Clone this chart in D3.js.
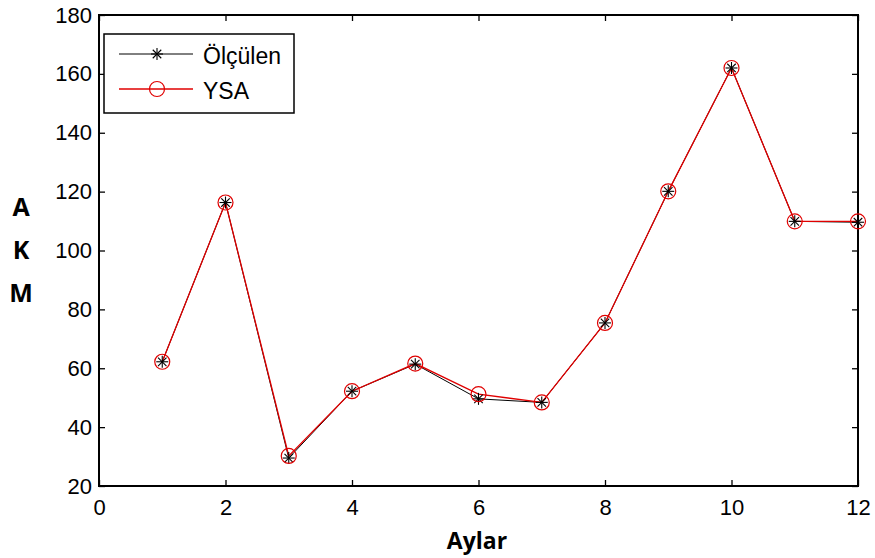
<!DOCTYPE html>
<html>
<head>
<meta charset="utf-8">
<script src="https://cdn.jsdelivr.net/npm/d3@7"></script>
<style>
html,body{margin:0;padding:0;background:#fff;}
svg{display:block;}
</style>
</head>
<body>
<svg id="chart" width="875" height="558"></svg>
<script>
const months = [1,2,3,4,5,6,7,8,9,10,11,12];
const olculen = [62.2, 116.3, 29.5, 52.2, 61.4, 49.6, 48.4, 75.4, 120.1, 162.0, 109.9, 109.6];
const ysa     = [62.2, 116.3, 30.2, 52.2, 61.6, 51.2, 48.4, 75.4, 120.1, 162.0, 109.9, 109.9];
const xTicks = [0,2,4,6,8,10,12];
const yTicks = [20,40,60,80,100,120,140,160,180];
const seriesNames = ["Ölçülen", "YSA"];

const svg = d3.select("#chart");
const L = 99, R = 858, T = 15, B = 486;
const x = d3.scaleLinear().domain([0,12]).range([L,R]);
const y = d3.scaleLinear().domain([20,180]).range([B,T]);
const font = "'Liberation Sans', Arial, sans-serif";

// frame
svg.append("rect").attr("x",L).attr("y",T).attr("width",R-L).attr("height",B-T)
  .attr("fill","none").attr("stroke","#000").attr("stroke-width",2);

// axes with inward ticks
const xAxB = svg.append("g").attr("transform",`translate(0,${B})`)
  .call(d3.axisBottom(x).tickValues(xTicks).tickSizeInner(-6).tickSizeOuter(0).tickPadding(13));
const xAxT = svg.append("g").attr("transform",`translate(0,${T})`)
  .call(d3.axisTop(x).tickValues(xTicks).tickSizeInner(-6).tickSizeOuter(0).tickFormat(""));
const yAxL = svg.append("g").attr("transform",`translate(${L},0)`)
  .call(d3.axisLeft(y).tickValues(yTicks).tickSizeInner(-6).tickSizeOuter(0).tickPadding(7));
const yAxR = svg.append("g").attr("transform",`translate(${R},0)`)
  .call(d3.axisRight(y).tickValues(yTicks).tickSizeInner(-6).tickSizeOuter(0).tickFormat(""));
[xAxB,xAxT,yAxL,yAxR].forEach(g=>{
  g.select(".domain").remove();
  g.selectAll(".tick line").attr("stroke","#000").attr("stroke-width",1.3);
  g.selectAll("text").attr("font-family",font).attr("font-size",22).attr("fill","#000");
});
xAxB.selectAll("text").attr("dy","0.71em");

// lines
const line = d3.line().x((d,i)=>x(months[i])).y(d=>y(d));
svg.append("path").datum(olculen).attr("d",line).attr("fill","none").attr("stroke","#000").attr("stroke-width",1);
svg.append("path").datum(ysa).attr("d",line).attr("fill","none").attr("stroke","#e00000").attr("stroke-width",1.3);

// star markers
function star(g, cx, cy, r){
  const angles = [0,45,90,135];
  angles.forEach(a=>{
    const rad = a*Math.PI/180;
    g.append("line").attr("x1",cx-r*Math.cos(rad)).attr("y1",cy-r*Math.sin(rad))
      .attr("x2",cx+r*Math.cos(rad)).attr("y2",cy+r*Math.sin(rad))
      .attr("stroke","#000").attr("stroke-width",1.1);
  });
}
const starG = svg.append("g");
olculen.forEach((v,i)=>star(starG, x(months[i]), y(v), 6));
svg.append("g").selectAll("circle").data(ysa).join("circle")
  .attr("cx",(d,i)=>x(months[i])).attr("cy",d=>y(d)).attr("r",7.5)
  .attr("fill","none").attr("stroke","#e00000").attr("stroke-width",1.2);

// axis labels
svg.append("text").attr("x",477).attr("y",549).attr("text-anchor","middle")
  .attr("font-family","'Open Sans', sans-serif").attr("font-weight","bold").attr("font-size",23).text("Aylar");
["A","K","M"].forEach((c,i)=>{
  svg.append("text").attr("x",21).attr("y",216+i*43).attr("text-anchor","middle")
    .attr("font-family","'Open Sans', sans-serif").attr("font-weight","bold").attr("font-size",25).text(c);
});

// legend
const lg = svg.append("g");
lg.append("rect").attr("x",104).attr("y",34).attr("width",190).attr("height",79)
  .attr("fill","#fff").attr("stroke","#000").attr("stroke-width",1.5);
const ly = [54, 89];
lg.append("line").attr("x1",119).attr("x2",193).attr("y1",ly[0]).attr("y2",ly[0]).attr("stroke","#000").attr("stroke-width",1);
star(lg,157,ly[0],6);
lg.append("line").attr("x1",119).attr("x2",193).attr("y1",ly[1]).attr("y2",ly[1]).attr("stroke","#e00000").attr("stroke-width",1.3);
lg.append("circle").attr("cx",157).attr("cy",ly[1]).attr("r",7.5).attr("fill","none").attr("stroke","#e00000").attr("stroke-width",1.2);
seriesNames.forEach((s,i)=>{
  lg.append("text").attr("x",203).attr("y",ly[i]+10).attr("font-family",font).attr("font-size",23).text(s);
});
</script>
</body>
</html>
